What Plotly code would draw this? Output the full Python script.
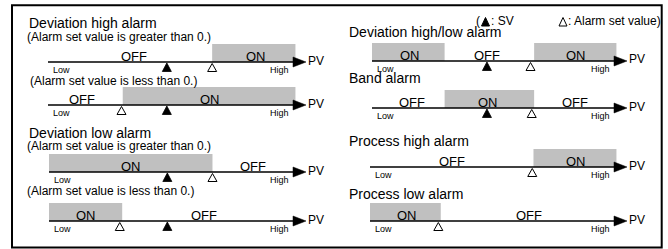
import plotly.graph_objects as go

W, H = 668, 249

# ---------------- data (PV scale: 0 = Low end, 100 = High end) ----------------
section_titles = ["Deviation high alarm", "Deviation low alarm",
                  "Deviation high/low alarm", "Band alarm",
                  "Process high alarm", "Process low alarm"]
condition_texts = ["(Alarm set value is greater than 0.)",
                   "(Alarm set value is less than 0.)"]
legend_open = "("
legend_sv = ": SV"
legend_al = ": Alarm set value)"
axis_low, axis_high, axis_name = "Low", "High", "PV"

on_ranges = [[[67, 101]], [[30.5, 101]], [[0, 67]], [[0, 30]],
             [[0, 30], [67, 101]], [[30, 67]], [[67, 101]], [[0, 29]]]
state_texts = [["OFF", "ON"], ["OFF", "ON"], ["ON", "OFF"], ["ON", "OFF"],
               ["ON", "OFF", "ON"], ["OFF", "ON", "OFF"], ["OFF", "ON"], ["ON", "OFF"]]
state_pv = [[35, 85], [14, 66], [33.5, 83.5], [15, 63.5],
            [15.5, 47.5, 84.5], [16.5, 48, 84], [33.5, 84.5], [15, 65]]
sv_pv = [48.5, 48.5, 48.5, 48.5, 47.5, 47.5, None, None]
alarm_pv = [67, 30, 67, 29, 65.5, 66, 66.5, 28]

# ---------------- layout (pixel placement of each PV scale) ----------------
row_x0 = [48, 48, 49, 49, 372, 372, 370, 370]
row_x1 = [293, 293, 293, 293, 614, 614, 614, 614]
row_y = [62, 105, 172, 221, 61, 108, 167, 221]
PAD_L, PAD_R, PAD_B, PAD_T = 6, 42, 14, 24
BAR_H = 18
GRAY = "#c0c0c0"
FONT = "Liberation Sans, Arial, sans-serif"

fig = go.Figure()
layout = dict(width=W, height=H, autosize=False,
              margin=dict(l=0, r=0, t=0, b=0, pad=0),
              paper_bgcolor="white", plot_bgcolor="rgba(0,0,0,0)",
              showlegend=False, font=dict(family=FONT, color="black"))
shapes, annotations = [], []

def px(x):
    return x / W

def py(y):
    return 1 - y / H

def note(**kw):
    base = dict(showarrow=False, borderpad=0, yanchor="middle")
    base.update(kw)
    annotations.append(base)

for i in range(len(row_y)):
    n = i + 1
    suf = "" if n == 1 else str(n)
    xr, yr = "x" + suf, "y" + suf
    x0, x1, ly = row_x0[i], row_x1[i], row_y[i]
    k = (x1 - x0) / 100.0
    layout["xaxis" + suf] = dict(domain=[px(x0 - PAD_L), px(x1 + PAD_R)],
                                 range=[-PAD_L / k, 100 + PAD_R / k],
                                 visible=False, fixedrange=True, anchor=yr)
    layout["yaxis" + suf] = dict(domain=[py(ly + PAD_B), py(ly - PAD_T)],
                                 range=[-PAD_B, PAD_T],
                                 visible=False, fixedrange=True, anchor=xr)
    fig.add_trace(go.Scatter(x=[0], y=[0], xaxis=xr, yaxis=yr, mode="markers",
                             marker=dict(opacity=0), hoverinfo="skip"))
    for a, b in on_ranges[i]:
        shapes.append(dict(type="rect", xref=xr, yref=yr, x0=a, x1=b, y0=0, y1=BAR_H,
                           fillcolor=GRAY, line=dict(width=0), layer="below"))
    shapes.append(dict(type="line", xref=xr, yref=yr, x0=0, x1=100, y0=0, y1=0,
                       line=dict(color="black", width=1.6)))
    shapes.append(dict(type="path", xref=xr, yref=yr,
                       path=f"M 100,5 L {100 + 13 / k},0 L 100,-5 Z",
                       fillcolor="black", line=dict(color="black", width=0.5)))
    hw = 4.5 / k
    if sv_pv[i] is not None:
        s = sv_pv[i]
        shapes.append(dict(type="path", xref=xr, yref=yr,
                           path=f"M {s},-1 L {s + hw},-9.5 L {s - hw},-9.5 Z",
                           fillcolor="black", line=dict(color="black", width=0.8)))
    a = alarm_pv[i]
    shapes.append(dict(type="path", xref=xr, yref=yr,
                       path=f"M {a},-1.5 L {a + hw},-9.5 L {a - hw},-9.5 Z",
                       fillcolor="white", line=dict(color="black", width=1)))
    for t, p in zip(state_texts[i], state_pv[i]):
        note(xref=xr, yref=yr, x=p, y=5.5, text=t, xanchor="center",
             font=dict(size=13, family=FONT))
    note(xref=xr, yref=yr, x=0, y=-7.5, xshift=4, text=axis_low, xanchor="left",
         font=dict(size=9, family=FONT))
    note(xref=xr, yref=yr, x=100, y=-7.5, xshift=-3, text=axis_high, xanchor="right",
         font=dict(size=9, family=FONT))
    note(xref=xr, yref=yr, x=100, y=1.5, xshift=14, text=axis_name, xanchor="left",
         font=dict(size=12, family=FONT))

# titles and conditions
title_pos = [(28, 23), (28, 133), (348, 32), (348, 78), (348, 141), (348, 194)]
for t, (x, y) in zip(section_titles, title_pos):
    note(xref="paper", yref="paper", x=px(x), y=py(y), text=t, xanchor="left",
         font=dict(size=14, family=FONT))
cond_pos = [(0, 26, 37.5), (1, 29, 81), (0, 26, 145.5), (1, 26, 191)]
for ci, x, y in cond_pos:
    note(xref="paper", yref="paper", x=px(x), y=py(y), text=condition_texts[ci],
         xanchor="left", font=dict(size=12, family=FONT))

# legend
for t, x in [(legend_open, 475), (legend_sv, 490), (legend_al, 567)]:
    note(xref="paper", yref="paper", x=px(x), y=py(21), text=t, xanchor="left",
         font=dict(size=12, family=FONT))
for cx, fill in [(485.5, "black"), (563, "white")]:
    shapes.append(dict(type="path", xref="paper", yref="paper",
                       path=f"M {px(cx)},{py(17.5)} L {px(cx + 4)},{py(26)} L {px(cx - 4)},{py(26)} Z",
                       fillcolor=fill, line=dict(color="black", width=1)))

# outer frame
shapes.append(dict(type="rect", xref="paper", yref="paper",
                   x0=px(12), x1=px(661.7), y0=py(247.5), y1=py(5.3),
                   line=dict(color="black", width=2), fillcolor="rgba(0,0,0,0)"))

layout["shapes"] = shapes
layout["annotations"] = annotations
fig.update_layout(**layout)
fig.write_html("out.html", config={"displayModeBar": False},
               post_script="document.body.style.margin='0';document.body.style.padding='0';")
